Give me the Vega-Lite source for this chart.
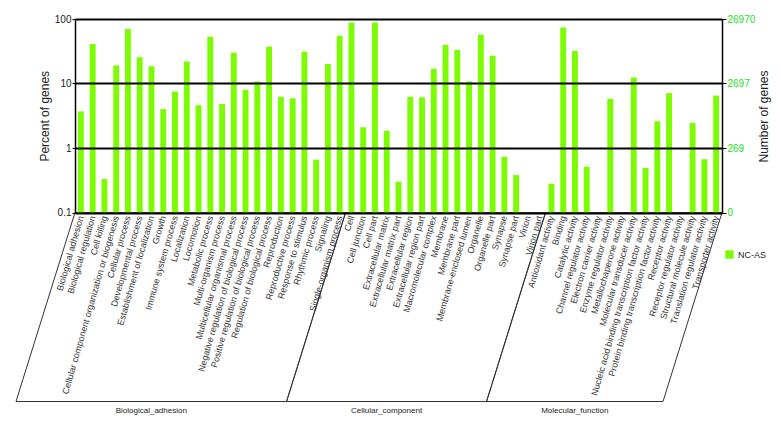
{
  "$schema": "https://vega.github.io/schema/vega-lite/v6.json",
  "width": 647,
  "height": 193.5,
  "autosize": {"type": "none"},
  "padding": {"left": 75, "top": 19, "right": 58, "bottom": 216.5},
  "background": "white",
  "config": {
    "font": "Liberation Sans",
    "view": {"stroke": null},
    "axis": {"labelFont": "Liberation Sans", "titleFont": "Liberation Sans", "titleFontWeight": "normal"}
  },
  "datasets": {
    "genes": [
      {"category": "Biological adhesion", "percent": 3.7},
      {"category": "Biological regulation", "percent": 41},
      {"category": "Cell killing", "percent": 0.33},
      {"category": "Cellular component organization or biogenesis", "percent": 19},
      {"category": "Cellular process", "percent": 70},
      {"category": "Developmental process", "percent": 25.5},
      {"category": "Establishment of localization", "percent": 18.5},
      {"category": "Growth", "percent": 4.0},
      {"category": "Immune system process", "percent": 7.5},
      {"category": "Localization", "percent": 22},
      {"category": "Locomotion", "percent": 4.6},
      {"category": "Metabolic process", "percent": 53},
      {"category": "Multi-organism process", "percent": 4.8},
      {"category": "Multicellular organismal process", "percent": 30},
      {"category": "Negative regulation of biological process", "percent": 8.0},
      {"category": "Positive regulation of biological process", "percent": 10.7},
      {"category": "Regulation of biological process", "percent": 37},
      {"category": "Reproduction", "percent": 6.2},
      {"category": "Reproductive process", "percent": 5.9},
      {"category": "Response to stimulus", "percent": 31},
      {"category": "Rhythmic process", "percent": 0.66},
      {"category": "Signaling", "percent": 20},
      {"category": "Single-organism process", "percent": 55},
      {"category": "Cell", "percent": 88},
      {"category": "Cell junction", "percent": 2.1},
      {"category": "Cell part", "percent": 88},
      {"category": "Extracellular matrix", "percent": 1.85},
      {"category": "Extracellular matrix part", "percent": 0.3},
      {"category": "Extracellular region", "percent": 6.2},
      {"category": "Extracellular region part", "percent": 6.1},
      {"category": "Macromolecular complex", "percent": 17},
      {"category": "Membrane", "percent": 40},
      {"category": "Membrane part", "percent": 33},
      {"category": "Membrane-enclosed lumen", "percent": 10.7},
      {"category": "Organelle", "percent": 57},
      {"category": "Organelle part", "percent": 27},
      {"category": "Synapse", "percent": 0.73},
      {"category": "Synapse part", "percent": 0.38},
      {"category": "Virion", "percent": null},
      {"category": "Virion part", "percent": null},
      {"category": "Antioxidant activity", "percent": 0.28},
      {"category": "Binding", "percent": 74},
      {"category": "Catalytic activity", "percent": 32},
      {"category": "Channel regulator activity", "percent": 0.51},
      {"category": "Electron carrier activity", "percent": null},
      {"category": "Enzyme regulator activity", "percent": 5.8},
      {"category": "Metallochaperone activity", "percent": null},
      {"category": "Molecular transducer activity", "percent": 12.4},
      {"category": "Nucleic acid binding transcription factor activity", "percent": 0.49},
      {"category": "Protein binding transcription factor activity", "percent": 2.6},
      {"category": "Receptor activity", "percent": 7.1},
      {"category": "Receptor regulator activity", "percent": null},
      {"category": "Structural molecule activity", "percent": 2.45},
      {"category": "Translation regulator activity", "percent": 0.67},
      {"category": "Transporter activity", "percent": 6.5}
    ],
    "groups": [
      {"group": "Biological_adhesion", "start": 0, "end": 23, "mid": 11.5},
      {"group": "Cellular_component", "start": 23, "end": 40, "mid": 31.5},
      {"group": "Molecular_function", "start": 40, "end": 55, "mid": 47.5}
    ]
  },
  "layer": [
    {
      "data": {"name": "genes"},
      "mark": {"type": "bar", "width": {"band": 0.5}},
      "encoding": {
        "x": {
          "field": "category",
          "type": "nominal",
          "sort": null,
          "scale": {
            "domain": ["Biological adhesion", "Biological regulation", "Cell killing", "Cellular component organization or biogenesis", "Cellular process", "Developmental process", "Establishment of localization", "Growth", "Immune system process", "Localization", "Locomotion", "Metabolic process", "Multi-organism process", "Multicellular organismal process", "Negative regulation of biological process", "Positive regulation of biological process", "Regulation of biological process", "Reproduction", "Reproductive process", "Response to stimulus", "Rhythmic process", "Signaling", "Single-organism process", "Cell", "Cell junction", "Cell part", "Extracellular matrix", "Extracellular matrix part", "Extracellular region", "Extracellular region part", "Macromolecular complex", "Membrane", "Membrane part", "Membrane-enclosed lumen", "Organelle", "Organelle part", "Synapse", "Synapse part", "Virion", "Virion part", "Antioxidant activity", "Binding", "Catalytic activity", "Channel regulator activity", "Electron carrier activity", "Enzyme regulator activity", "Metallochaperone activity", "Molecular transducer activity", "Nucleic acid binding transcription factor activity", "Protein binding transcription factor activity", "Receptor activity", "Receptor regulator activity", "Structural molecule activity", "Translation regulator activity", "Transporter activity"],
            "paddingInner": 0,
            "paddingOuter": 0
          },
          "axis": {
            "title": null,
            "labelAngle": -74,
            "labelFontSize": 9,
            "labelColor": "#333",
            "ticks": false,
            "domain": true,
            "domainColor": "black",
            "domainWidth": 1.5,
            "labelPadding": 3,
            "labelOverlap": false,
            "labelLimit": 300
          }
        },
        "y": {
          "field": "percent",
          "type": "quantitative",
          "scale": {"type": "log", "domain": [0.1, 100], "nice": false},
          "axis": {
            "title": "Percent of genes",
            "titleFontSize": 12,
            "titleColor": "#222",
            "titlePadding": 3,
            "values": [0.1, 1, 10, 100],
            "format": "~g",
            "labelFontSize": 10,
            "labelColor": "#222",
            "labelPadding": 1,
            "tickSize": 3,
            "tickColor": "black",
            "domainColor": "black",
            "domainWidth": 1.5,
            "grid": true,
            "gridColor": "black",
            "gridWidth": 2,
            "gridOpacity": 1,
            "zindex": 1
          }
        },
        "y2": {"datum": 0.1},
        "color": {
          "datum": "NC-AS",
          "type": "nominal",
          "scale": {"range": ["#7CFC00"]},
          "legend": {
            "title": null,
            "orient": "none",
            "legendX": 650,
            "legendY": 231,
            "symbolType": "square",
            "symbolSize": 70,
            "symbolStrokeWidth": 0,
            "labelFontSize": 9,
            "labelColor": "#222"
          }
        }
      }
    },
    {
      "data": {"values": [{}]},
      "mark": {"type": "rule", "opacity": 0},
      "encoding": {
        "y": {
          "datum": 1,
          "type": "quantitative",
          "scale": {"type": "log", "domain": [0.1, 100], "nice": false},
          "axis": {
            "orient": "right",
            "title": "Number of genes",
            "titleAngle": -90,
            "titleX": 41,
            "titleY": 97,
            "titleAlign": "center",
            "titleBaseline": "middle",
            "titleFontSize": 12,
            "titleColor": "#222",
            "values": [0.1, 1, 10, 100],
            "labelExpr": "datum.value < 0.5 ? '0' : datum.value < 5 ? '269' : datum.value < 50 ? '2697' : '26970'",
            "labelFontSize": 10,
            "labelColor": "#22dd22",
            "labelPadding": 1,
            "tickSize": 4,
            "tickColor": "black",
            "domainColor": "black",
            "domainWidth": 1.5,
            "grid": false
          }
        }
      }
    },
    {
      "data": {"name": "groups"},
      "mark": {"type": "rule", "color": "#333", "strokeWidth": 1, "x2Offset": -59, "y2Offset": 189},
      "encoding": {
        "x": {"field": "start", "type": "quantitative", "scale": {"domain": [0, 55], "nice": false, "zero": false}, "axis": null},
        "x2": {"field": "start"},
        "y": {"datum": 0.1, "type": "quantitative", "scale": {"type": "log", "domain": [0.1, 100], "nice": false}, "axis": null},
        "y2": {"datum": 0.1}
      }
    },
    {
      "data": {"name": "groups"},
      "mark": {"type": "rule", "color": "#333", "strokeWidth": 1, "x2Offset": -59, "y2Offset": 189},
      "encoding": {
        "x": {"field": "end", "type": "quantitative", "scale": {"domain": [0, 55], "nice": false, "zero": false}, "axis": null},
        "x2": {"field": "end"},
        "y": {"datum": 0.1, "type": "quantitative", "scale": {"type": "log", "domain": [0.1, 100], "nice": false}, "axis": null},
        "y2": {"datum": 0.1}
      }
    },
    {
      "data": {"name": "groups"},
      "mark": {"type": "rule", "color": "#333", "strokeWidth": 1, "xOffset": -59, "x2Offset": -59, "yOffset": 189},
      "encoding": {
        "x": {"field": "start", "type": "quantitative", "scale": {"domain": [0, 55], "nice": false, "zero": false}, "axis": null},
        "x2": {"field": "end"},
        "y": {"datum": 0.1, "type": "quantitative", "scale": {"type": "log", "domain": [0.1, 100], "nice": false}, "axis": null}
      }
    },
    {
      "data": {"name": "groups"},
      "mark": {"type": "text", "font": "Liberation Sans", "fontSize": 8, "color": "#222", "baseline": "middle", "align": "center", "xOffset": -59, "yOffset": 198.5},
      "encoding": {
        "x": {"field": "mid", "type": "quantitative", "scale": {"domain": [0, 55], "nice": false, "zero": false}, "axis": null},
        "y": {"datum": 0.1, "type": "quantitative", "scale": {"type": "log", "domain": [0.1, 100], "nice": false}, "axis": null},
        "text": {"field": "group"}
      }
    }
  ],
  "resolve": {"scale": {"x": "independent", "y": "independent"}}
}
